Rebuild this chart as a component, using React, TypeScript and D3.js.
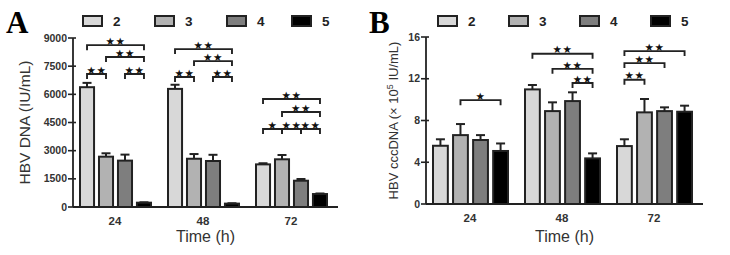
import { scaleBand, scaleLinear } from "d3";

const groups = ["24", "48", "72"];
const series = ["2", "3", "4", "5"];
const fills = ["#d8d8d8", "#b2b2b2", "#7e7e7e", "#000000"];

// panel A: HBV DNA (IU/mL)
const dnaMean = [
  [6380, 2680, 2470, 230],
  [6290, 2570, 2450, 180],
  [2270, 2540, 1400, 690],
];
const dnaErr = [
  [230, 180, 320, 20],
  [220, 250, 330, 20],
  [60, 230, 90, 30],
];
const dnaTicks = [0, 1500, 3000, 4500, 6000, 7500, 9000];

// panel B: HBV cccDNA (x 10^5 IU/mL)
const cccMean = [
  [5.58, 6.6, 6.13, 5.08],
  [10.98, 8.9, 9.86, 4.37],
  [5.55, 8.78, 8.9, 8.84],
];
const cccErr = [
  [0.62, 1.06, 0.47, 0.72],
  [0.42, 0.84, 0.84, 0.48],
  [0.65, 1.28, 0.36, 0.58],
];
const cccTicks = [0, 4, 8, 12, 16];

type Bracket = { group: string; from: number; to: number; level: number; label: string };

const dnaBrackets: Bracket[] = [
  { group: "24", from: 0, to: 3, level: 8620, label: "★★" },
  { group: "24", from: 1, to: 3, level: 7990, label: "★★" },
  { group: "24", from: 0, to: 1, level: 7080, label: "★★" },
  { group: "24", from: 2, to: 3, level: 7080, label: "★★" },
  { group: "48", from: 0, to: 3, level: 8410, label: "★★" },
  { group: "48", from: 1, to: 3, level: 7770, label: "★★" },
  { group: "48", from: 0, to: 1, level: 6920, label: "★★" },
  { group: "48", from: 2, to: 3, level: 6920, label: "★★" },
  { group: "72", from: 0, to: 3, level: 5750, label: "★★" },
  { group: "72", from: 1, to: 3, level: 5060, label: "★★" },
  { group: "72", from: 0, to: 1, level: 4150, label: "★" },
  { group: "72", from: 1, to: 2, level: 4150, label: "★★" },
  { group: "72", from: 2, to: 3, level: 4150, label: "★★" },
];

const cccBrackets: Bracket[] = [
  { group: "24", from: 1, to: 3, level: 9.95, label: "★" },
  { group: "48", from: 0, to: 3, level: 14.4, label: "★★" },
  { group: "48", from: 1, to: 3, level: 12.95, label: "★★" },
  { group: "48", from: 2, to: 3, level: 11.6, label: "★★" },
  { group: "72", from: 0, to: 3, level: 14.65, label: "★★" },
  { group: "72", from: 0, to: 2, level: 13.5, label: "★★" },
  { group: "72", from: 0, to: 1, level: 11.9, label: "★★" },
];

const ink = "#222";
const sans = "Arial, 'Liberation Sans', Helvetica, sans-serif";

type PanelProps = {
  letter: string;
  ox: number;
  xRange: [number, number];
  inner: [number, number];
  yRange: [number, number];
  axisX: number;
  axisEnd: number;
  maxY: number;
  ticks: number[];
  means: number[][];
  errs: number[][];
  brackets: Bracket[];
  legendX: number[];
  label: React.ReactNode;
  labelX: number;
  labelSize: number;
};

function Panel(p: PanelProps) {
  const x = scaleBand<string>().domain(groups).range(p.xRange);
  const xi = scaleBand<string>().domain(series).range(p.inner).paddingInner(0.26);
  const y = scaleLinear().domain([0, p.maxY]).range(p.yRange);
  const bw = xi.bandwidth();
  const cx = (g: string, i: number) => (x(g) ?? 0) + (xi(series[i]) ?? 0) + bw / 2;

  return (
    <g>
      <text x={p.ox + 6} y={33} fontFamily="'Liberation Serif', 'Times New Roman', serif" fontWeight="bold" fontSize={31}>
        {p.letter}
      </text>
      {series.map((s, i) => (
        <g key={s}>
          <rect x={p.legendX[i]} y={16} width={19} height={10} fill={fills[i]} stroke={ink} strokeWidth={2} />
          <text x={p.legendX[i] + 30} y={26} fontFamily={sans} fontWeight="bold" fontSize={13.5} fill="#222">
            {s}
          </text>
        </g>
      ))}
      <text
        transform={`translate(${p.labelX},${(p.yRange[0] + p.yRange[1]) / 2}) rotate(-90)`}
        textAnchor="middle"
        fontFamily={sans}
        fontSize={p.labelSize}
        fill="#333"
      >
        {p.label}
      </text>
      {groups.map((g, gi) =>
        series.map((s, i) => {
          const x0 = (x(g) ?? 0) + (xi(s) ?? 0);
          const top = y(p.means[gi][i]);
          const et = y(p.means[gi][i] + p.errs[gi][i]);
          return (
            <g key={g + s}>
              <line x1={x0 + bw / 2} x2={x0 + bw / 2} y1={top} y2={et} stroke={ink} strokeWidth={2} />
              <line x1={x0 + bw / 2 - 4.5} x2={x0 + bw / 2 + 4.5} y1={et} y2={et} stroke={ink} strokeWidth={2} />
              <rect x={x0} y={top} width={bw} height={p.yRange[0] - top} fill={fills[i]} stroke={ink} strokeWidth={2} />
            </g>
          );
        })
      )}
      {p.brackets.map((b, k) => {
        const x1 = cx(b.group, b.from);
        const x2 = cx(b.group, b.to);
        const yy = y(b.level);
        return (
          <g key={k}>
            <path d={`M${x1},${yy + 5}V${yy}H${x2}V${yy + 5}`} fill="none" stroke={ink} strokeWidth={1.9} />
            <text x={(x1 + x2) / 2} y={yy - 0.3} textAnchor="middle" fontFamily="'DejaVu Sans', sans-serif" fontSize={10.5} letterSpacing={0.5} fill="#111">
              {b.label}
            </text>
          </g>
        );
      })}
      <line x1={p.axisX} x2={p.axisX} y1={p.yRange[1]} y2={p.yRange[0]} stroke={ink} strokeWidth={1.8} />
      <line x1={p.axisX} x2={p.axisEnd} y1={p.yRange[0]} y2={p.yRange[0]} stroke={ink} strokeWidth={1.8} />
      {p.ticks.map((t) => (
        <g key={t}>
          <line x1={p.axisX - 5} x2={p.axisX + 3} y1={y(t)} y2={y(t)} stroke={ink} strokeWidth={1.6} />
          <text x={p.axisX - 6} y={y(t) + 3.5} textAnchor="end" fontFamily={sans} fontWeight="bold" fontSize={10.5} fill="#333">
            {t}
          </text>
        </g>
      ))}
      {groups.map((g) => (
        <text key={g} x={(x(g) ?? 0) + x.bandwidth() / 2} y={p.yRange[0] + 18} textAnchor="middle" fontFamily={sans} fontWeight="bold" fontSize={11.5} fill="#333">
          {g}
        </text>
      ))}
      <text x={(p.axisX + p.axisEnd) / 2} y={242} textAnchor="middle" fontFamily={sans} fontSize={16} fill="#333">
        Time (h)
      </text>
    </g>
  );
}

export default function App() {
  return (
    <svg width={730} height={255} style={{ position: "absolute", left: 0, top: 0, background: "#fff" }}>
      <Panel
        letter="A"
        ox={0}
        xRange={[71, 335]}
        inner={[9, 80]}
        yRange={[207, 38]}
        axisX={73}
        axisEnd={338}
        maxY={9000}
        ticks={dnaTicks}
        means={dnaMean}
        errs={dnaErr}
        brackets={dnaBrackets}
        legendX={[83, 155, 227, 292]}
        label="HBV DNA  (IU/mL)"
        labelX={30}
        labelSize={15.5}
      />
      <Panel
        letter="B"
        ox={363}
        xRange={[424, 700]}
        inner={[9, 84]}
        yRange={[204, 37]}
        axisX={426}
        axisEnd={703}
        maxY={16}
        ticks={cccTicks}
        means={cccMean}
        errs={cccErr}
        brackets={cccBrackets}
        legendX={[438, 509, 580, 651]}
        label={
          <>
            HBV cccDNA (× 10<tspan baselineShift="super" fontSize={9}>5</tspan> IU/mL)
          </>
        }
        labelX={398}
        labelSize={13}
      />
    </svg>
  );
}
